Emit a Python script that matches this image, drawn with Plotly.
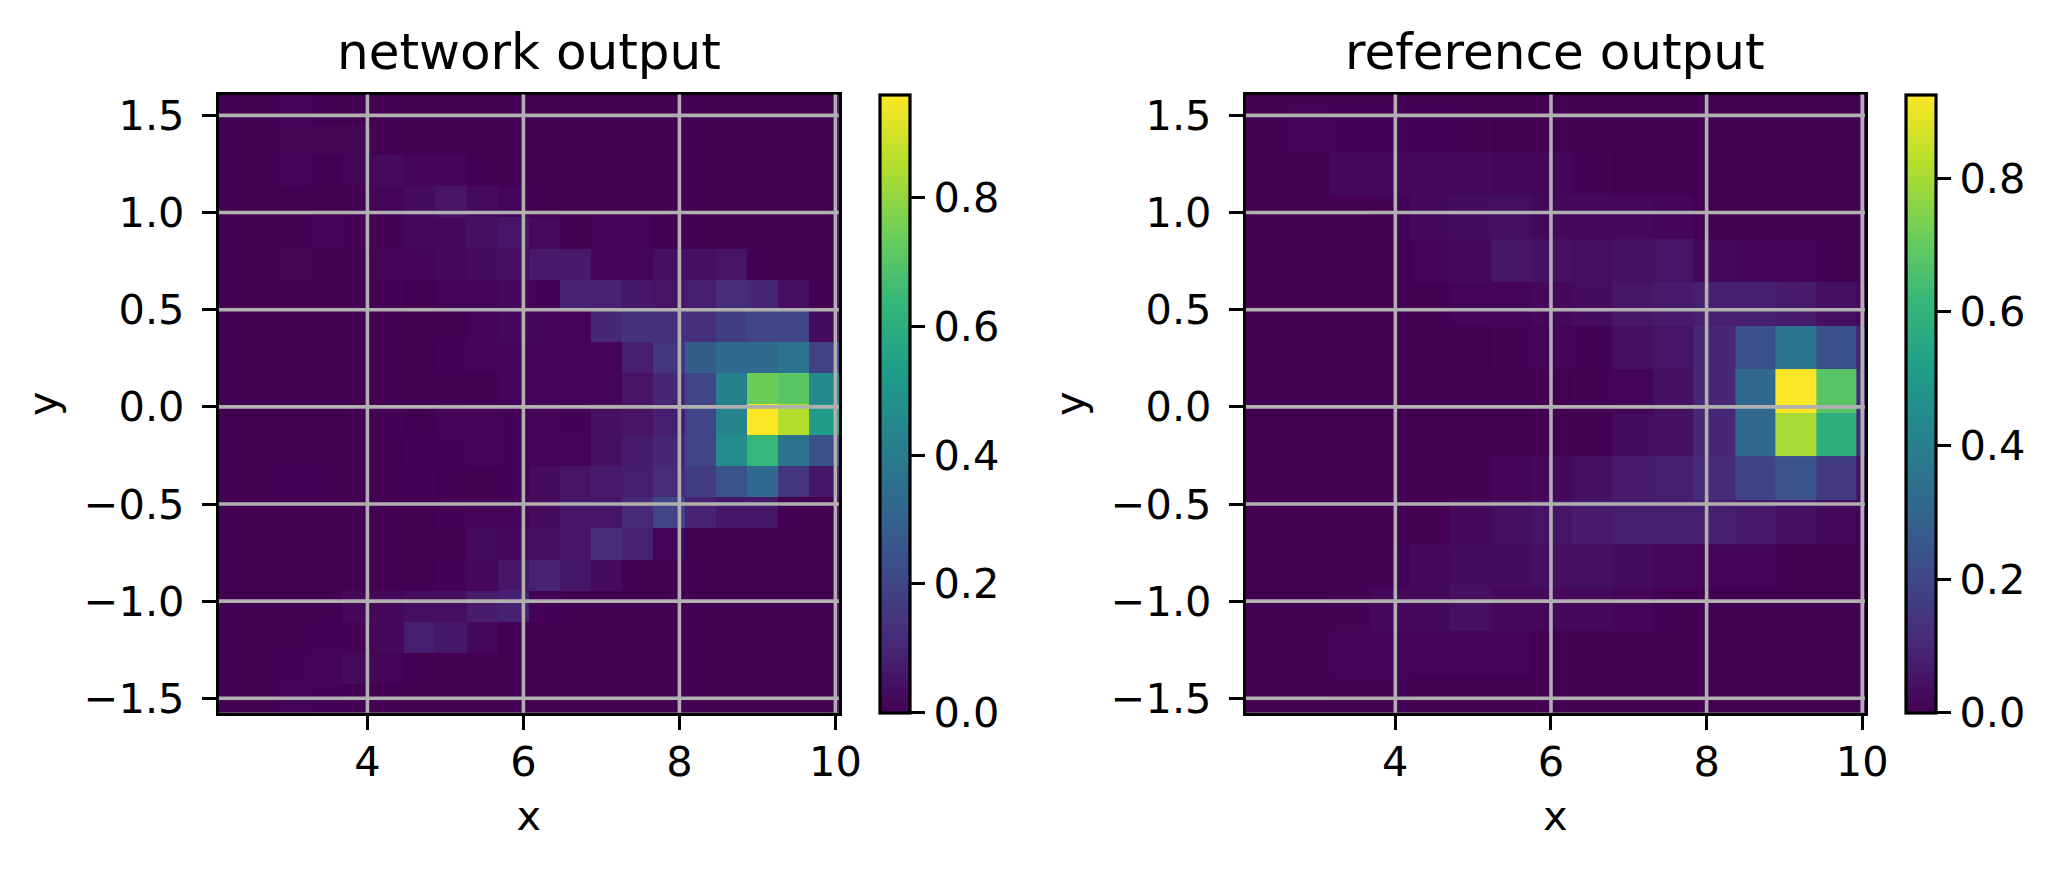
import numpy as np
import plotly.graph_objects as go

FONT = "DejaVu Sans"
W, H = 2061, 870

XTICKS = [4, 6, 8, 10]
YTICKS = [-1.5, -1.0, -0.5, 0.0, 0.5, 1.0, 1.5]
CB_TICKS = [0.0, 0.2, 0.4, 0.6, 0.8]

# network output: 20 x 20 bins, rows listed top to bottom
NET_X_EDGES = np.linspace(2.076, 10.065, 21)
NET_Y_EDGES = np.linspace(1.615, -1.585, 21)
NET_ROWS = [
    [0, 0, .008, 0, 0, 0, 0, 0, 0, 0, 0, 0, 0, 0, 0, 0, 0, 0, 0, 0],
    [0, 0, .010, .010, .010, 0, 0, 0, 0, 0, 0, 0, 0, 0, 0, 0, 0, 0, 0, 0],
    [0, 0, .008, 0, .012, .024, .015, .015, 0, 0, 0, 0, 0, 0, 0, 0, 0, 0, 0, 0],
    [0, 0, 0, .004, .004, .008, .03, .05, .025, .012, .004, 0, 0, 0, 0, 0, 0, 0, 0, 0],
    [0, 0, 0, .008, .006, .004, .018, .02, .04, .055, .025, 0, .008, .008, 0, 0, 0, 0, 0, 0],
    [0, 0, .01, 0, 0, .008, .012, .018, .028, .035, .065, .065, .015, .015, .04, .04, .05, 0, 0, 0],
    [0, 0, 0, 0, 0, .006, 0, .008, .012, .02, .006, .09, .09, .06, .05, .08, .12, .10, .04, 0],
    [0, 0, 0, 0, 0, 0, 0, 0, .008, .02, .012, .012, .10, .14, .14, .13, .17, .20, .20, .03],
    [0, 0, 0, 0, 0, 0, 0, .006, .012, .015, .012, .012, .012, .08, .15, .28, .33, .33, .37, .19],
    [0, 0, 0, 0, 0, 0, 0, .004, 0, .012, .012, .012, .012, .05, .10, .20, .42, .74, .71, .45],
    [0, 0, 0, 0, 0, .006, 0, .008, .012, .006, .012, .006, .04, .05, .08, .20, .43, .96, .85, .53],
    [0, 0, 0, 0, 0, 0, .006, .006, .008, .006, .012, .012, .04, .07, .10, .20, .46, .64, .37, .24],
    [0, 0, .006, 0, 0, .004, .006, 0, 0, .006, .03, .05, .07, .08, .12, .17, .25, .33, .15, .06],
    [0, 0, 0, 0, 0, 0, 0, .006, .012, .012, .03, .055, .055, .11, .20, .09, .06, .06, 0, 0],
    [0, 0, 0, 0, 0, 0, 0, 0, .03, .02, .035, .055, .12, .09, .012, 0, 0, 0, 0, 0],
    [0, 0, 0, 0, 0, 0, 0, .006, .02, .06, .09, .06, .03, 0, 0, 0, 0, 0, 0, 0],
    [0, 0, 0, 0, .02, .02, .035, .035, .075, .085, .006, 0, 0, 0, 0, 0, 0, 0, 0, 0],
    [0, 0, 0, .006, .006, .02, .08, .06, .02, 0, 0, 0, 0, 0, 0, 0, 0, 0, 0, 0],
    [0, 0, .006, .012, .025, .012, 0, 0, 0, 0, 0, 0, 0, 0, 0, 0, 0, 0, 0, 0],
    [0, 0, .012, .006, 0, 0, 0, 0, 0, 0, 0, 0, 0, 0, 0, 0, 0, 0, 0, 0],
]

# reference output: coarser bins, rows listed top to bottom
REF_X_EDGES = [2.06, 2.63, 3.148, 3.66, 4.19, 4.70, 5.23, 5.75, 6.26, 6.79, 7.31, 7.83, 8.365, 8.879, 9.405, 9.919, 10.054]
REF_Y_EDGES = [1.615, 1.536, 1.31, 1.09, .866, .642, .416, .194, -.0325, -.2525, -.481, -.706, -.93, -1.153, -1.376, -1.585]
REF_ROWS = [
    [.004, .007, 0, 0, 0, 0, 0, 0, 0, 0, 0, 0, 0, 0, 0, 0],
    [0, .008, .006, .006, .006, .007, 0, 0, 0, 0, 0, 0, 0, 0, 0, 0],
    [0, 0, .02, .02, .018, .018, .012, .012, .004, 0, 0, 0, 0, 0, 0, 0],
    [0, 0, 0, .004, .02, .032, .038, .022, .018, .018, .014, 0, 0, 0, 0, 0],
    [0, 0, 0, 0, .008, .02, .055, .045, .035, .045, .05, .02, .014, .014, 0, 0],
    [0, 0, 0, 0, 0, .008, .008, .018, .03, .055, .065, .08, .08, .07, .04, .015],
    [0, 0, 0, 0, 0, 0, .004, .008, .007, .04, .05, .10, .23, .36, .23, .09],
    [0, 0, 0, 0, 0, 0, 0, 0, .004, .008, .04, .10, .31, .925, .68, .11],
    [0, 0, 0, 0, 0, 0, 0, 0, 0, .03, .04, .10, .31, .80, .58, .10],
    [0, 0, 0, 0, 0, .007, .014, .018, .04, .07, .08, .11, .19, .24, .155, .04],
    [0, 0, 0, 0, 0, .022, .04, .05, .07, .08, .08, .08, .06, .04, .02, .007],
    [0, 0, 0, .004, .022, .03, .03, .04, .04, .03, .02, .014, .014, 0, 0, 0],
    [0, 0, .004, .018, .022, .04, .018, .018, .018, .014, 0, 0, 0, 0, 0, 0],
    [0, 0, .01, .01, .008, .008, .008, 0, 0, 0, 0, 0, 0, 0, 0, 0],
    [0, 0, .004, .004, 0, 0, 0, 0, 0, 0, 0, 0, 0, 0, 0, 0],
]

NET_ZMAX = 0.96
REF_ZMAX = 0.925

TICK_SIZE = 41.5
TITLE_SIZE = 50
SPINE = 3.2
GRID = 3.6


def px_x(v):
    return v / W


def px_y(v):
    return 1 - v / H


def add_panel(fig, idx, x_edges, y_edges, rows, zmax, left, right, cb_left, x_range, y_range, title):
    top, bottom = 94.6, 712.7
    suffix = "" if idx == 1 else str(idx)
    tickfont = dict(family=FONT, size=TICK_SIZE, color="black")
    fig.add_trace(go.Heatmap(
        z=np.array(rows)[::-1],
        x=x_edges,
        y=list(y_edges)[::-1],
        xaxis="x" + suffix,
        yaxis="y" + suffix,
        colorscale="Viridis",
        zmin=0,
        zmax=zmax,
        hoverinfo="skip",
        colorbar=dict(
            x=px_x(cb_left), xanchor="left", xpad=0,
            y=px_y(bottom), yanchor="bottom", ypad=0,
            len=(bottom - top) / H, lenmode="fraction",
            thickness=30, thicknessmode="pixels",
            outlinecolor="black", outlinewidth=SPINE,
            tickmode="array", tickvals=CB_TICKS, ticktext=["%.1f" % t for t in CB_TICKS],
            tickprefix="\u200a",
            ticks="outside", ticklen=14, tickwidth=SPINE, tickcolor="black",
            tickfont=tickfont,
        ),
    ))
    axis = dict(
        showline=True, mirror=True, linecolor="black", linewidth=SPINE,
        ticks="outside", ticklen=14, tickwidth=SPINE, tickcolor="black",
        tickfont=tickfont,
        showgrid=False, zeroline=False, layer="above traces",
    )
    fig.update_layout({
        "xaxis" + suffix: dict(
            axis, domain=[px_x(left), px_x(right)], range=x_range, anchor="y" + suffix,
            tickmode="array", tickvals=XTICKS, ticktext=[str(t) for t in XTICKS],
            ticklabelstandoff=-4,
            title=dict(text="x", font=tickfont, standoff=17),
        ),
        "yaxis" + suffix: dict(
            axis, domain=[px_y(bottom), px_y(top)], range=y_range, anchor="x" + suffix,
            tickmode="array", tickvals=YTICKS, tickformat=".1f",
            ticklabelstandoff=9,
            title=dict(text="y", font=tickfont, standoff=14),
        ),
    })
    # grid sits on top of the image, as in the original
    for t in XTICKS:
        fig.add_shape(type="line", xref="x" + suffix, yref="y domain" if idx == 1 else "y2 domain",
                      x0=t, x1=t, y0=0, y1=1, line=dict(color="#b0b0b0", width=GRID), layer="above")
    for t in YTICKS:
        fig.add_shape(type="line", yref="y" + suffix, xref="x domain" if idx == 1 else "x2 domain",
                      y0=t, y1=t, x0=0, x1=1, line=dict(color="#b0b0b0", width=GRID), layer="above")
    fig.add_annotation(
        text=title, xref="paper", yref="paper", showarrow=False,
        x=px_x((left + right) / 2), y=px_y(52), xanchor="center", yanchor="middle",
        font=dict(family=FONT, size=TITLE_SIZE, color="black"),
    )


fig = go.Figure()
add_panel(fig, 1, NET_X_EDGES, NET_Y_EDGES, NET_ROWS, NET_ZMAX,
          218.9, 838.9, 879.5, [2.096, 10.045], [-1.574, 1.607], "network output")
add_panel(fig, 2, REF_X_EDGES, REF_Y_EDGES, REF_ROWS, REF_ZMAX,
          1245.9, 1864.9, 1905.5, [2.08, 10.034], [-1.574, 1.607], "reference output")

fig.update_layout(
    width=W, height=H, autosize=False,
    margin=dict(l=0, r=0, t=0, b=0, autoexpand=False),
    paper_bgcolor="white", plot_bgcolor="white",
    showlegend=False,
)
fig.write_html(
    "out.html",
    config={"displayModeBar": False, "responsive": False},
    post_script="document.body.style.margin='0';",
)
